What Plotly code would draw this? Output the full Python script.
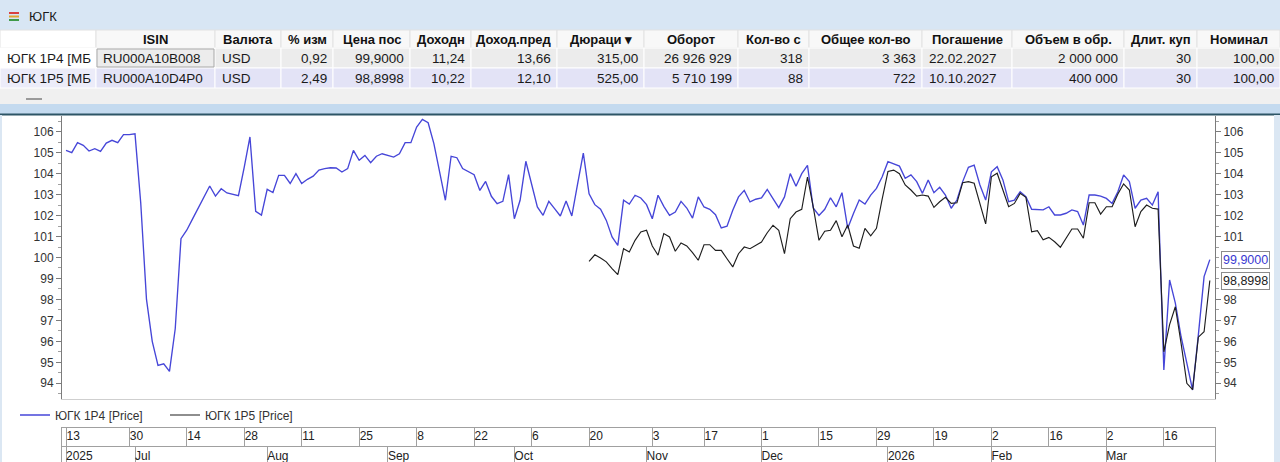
import plotly.graph_objects as go
import pandas as pd

# ---------------- data ----------------
holidays = ["2025-11-04", "2025-12-31", "2026-01-01", "2026-01-02", "2026-01-05", "2026-01-07"]
extra_sessions = ["2025-11-01"]
trading_days = sorted(
    set(pd.bdate_range("2025-06-13", "2026-03-26").strftime("%Y-%m-%d")) - set(holidays) | set(extra_sessions)
)

yugk_1p4 = [
    105.11, 105.00, 105.48, 105.35, 105.08, 105.19, 105.06, 105.46, 105.59, 105.48,
    105.86, 105.86, 105.90, 102.60, 98.00, 96.00, 94.85, 94.93, 94.57, 96.60,
    100.90, 101.30, 101.83, 102.35, 102.88, 103.41, 102.93, 103.28, 103.08, 103.01,
    102.95, 104.30, 105.75, 102.20, 102.02, 103.25, 103.10, 103.92, 103.92, 103.53,
    104.00, 103.53, 103.73, 103.88, 104.17, 104.24, 104.28, 104.27, 104.08, 104.24,
    105.11, 104.64, 104.87, 104.52, 104.83, 104.95, 104.87, 104.79, 104.95, 105.48,
    105.48, 106.22, 106.59, 106.43, 105.43, 104.05, 102.73, 104.83, 104.76, 104.24,
    104.11, 103.95, 103.20, 103.63, 102.92, 102.57, 102.68, 103.95, 101.85, 102.73,
    104.59, 103.44, 102.41, 102.01, 102.68, 102.33, 101.98, 102.70, 101.98, 103.50,
    104.98, 103.04, 102.52, 102.30, 101.77, 100.98, 100.58, 102.73, 102.55, 102.97,
    102.84, 102.52, 101.85, 102.97, 102.44, 102.01, 102.17, 102.68, 102.36, 101.88,
    102.89, 102.41, 102.30, 102.04, 101.41, 101.49, 102.25, 102.89, 103.20, 102.65,
    102.78, 102.84, 103.25, 102.81, 102.38, 102.89, 104.00, 103.40, 104.00, 104.40,
    102.36, 102.01, 102.30, 102.85, 102.42, 103.09, 101.39, 102.10, 102.74, 102.55,
    102.98, 103.30, 103.85, 104.57, 104.45, 104.36, 103.78, 103.94, 103.62, 103.06,
    103.70, 103.09, 103.35, 102.98, 102.35, 102.74, 103.62, 104.30, 104.41, 103.46,
    102.74, 104.09, 104.33, 103.70, 102.66, 102.74, 103.14, 102.90, 102.30, 102.27,
    102.27, 102.42, 102.03, 102.03, 102.11, 102.27, 102.19, 101.55, 102.98, 102.98,
    102.93, 102.82, 102.58, 103.14, 103.94, 103.62, 102.35, 102.74, 102.82, 102.50,
    103.14, 94.64, 98.93, 97.82, 96.22, 94.96, 93.68, 96.30, 99.09, 99.90,
]

yugk_1p5 = [
    99.82, 100.13, 99.98, 99.79, 99.47, 99.18, 100.42, 100.26, 100.82, 101.22,
    101.30, 100.55, 100.11, 101.14, 100.98, 100.30, 100.69, 100.55, 100.23, 99.87,
    100.61, 100.61, 100.34, 100.34, 99.94, 99.55, 100.18, 100.50, 100.42, 100.58,
    100.74, 101.18, 101.54, 101.30, 100.18, 101.85, 102.17, 102.30, 103.84, 102.41,
    100.82, 101.25, 101.30, 101.76, 100.99, 101.55, 100.55, 100.44, 101.39, 101.03,
    101.39, 102.80, 104.10, 104.17, 104.00, 103.46, 103.22, 102.93, 102.98, 102.93,
    102.39, 102.66, 102.87, 102.58, 102.61, 103.57, 103.62, 103.54, 102.58, 101.60,
    103.85, 104.02, 103.22, 102.42, 102.58, 103.06, 102.87, 101.23, 101.28, 100.84,
    100.96, 100.75, 100.49, 100.92, 101.36, 101.36, 100.92, 102.61, 102.61, 102.07,
    102.42, 102.42, 103.03, 103.51, 103.22, 101.47, 102.19, 102.50, 102.35, 102.31,
    95.50, 96.80, 97.65, 95.90, 94.00, 93.70, 96.20, 96.46, 98.8998,
]
dates_1p5 = trading_days[-len(yugk_1p5):]

day_tick_dates = ["2025-06-13", "2025-06-30", "2025-07-14", "2025-07-28", "2025-08-11", "2025-08-25",
                  "2025-09-08", "2025-09-22", "2025-10-06", "2025-10-20", "2025-11-03", "2025-11-17",
                  "2025-12-01", "2025-12-15", "2025-12-29", "2026-01-19", "2026-02-02", "2026-02-16",
                  "2026-03-02", "2026-03-16"]
day_tick_labels = ["13", "30", "14", "28", "11", "25", "8", "22", "6", "20", "3", "17",
                   "1", "15", "29", "19", "2", "16", "2", "16"]
month_tick_dates = ["2025-06-13", "2025-07-01", "2025-08-01", "2025-09-01", "2025-10-01",
                    "2025-11-01", "2025-12-01", "2026-01-06", "2026-02-02", "2026-03-02"]
month_tick_labels = ["2025", "Jul", "Aug", "Sep", "Oct", "Nov", "Dec", "2026", "Feb", "Mar"]
price_ticks = list(range(94, 107))

# table data
col_headers = ["", "ISIN", "Валюта", "% изм", "Цена пос", "Доходн", "Доход.пред", "Дюраци ▾",
               "Оборот", "Кол-во с", "Общее кол-во", "Погашение", "Объем в обр.", "Длит. куп", "Номинал"]
row_names = ["ЮГК 1P4 [МБ", "ЮГК 1P5 [МБ"]
isin = ["RU000A10B008", "RU000A10D4P0"]
currency = ["USD", "USD"]
pct_change = ["0,92", "2,49"]
last_price = ["99,9000", "98,8998"]
yield_now = ["11,24", "10,22"]
yield_prev = ["13,66", "12,10"]
duration = ["315,00", "525,00"]
turnover = ["26 926 929", "5 710 199"]
n_trades = ["318", "88"]
total_qty = ["3 363", "722"]
maturity = ["22.02.2027", "10.10.2027"]
issue_volume = ["2 000 000", "400 000"]
coupon_len = ["30", "30"]
nominal = ["100,00", "100,00"]

# ---------------- layout helpers ----------------
W, H = 1280, 462
def fx(p):
    return p / W
def fy(p):
    return 1 - p / H

FONT = "Liberation Sans, Arial, sans-serif"
BLUE = "#4646d8"
DARK = "#1e1e1e"
AX = "#7c7c7c"
GRID = "#a0a0a0"
x_range = [-0.7, len(trading_days) - 1 + 0.9]
day_pos = [trading_days.index(d) for d in day_tick_dates]
month_pos = [trading_days.index(d) for d in month_tick_dates]

fig = go.Figure()
fig.add_trace(go.Scatter(x=trading_days, y=yugk_1p4, mode="lines", name="ЮГК 1P4 [Price]",
                         line=dict(color=BLUE, width=1.35), xaxis="x", yaxis="y"))
fig.add_trace(go.Scatter(x=dates_1p5, y=yugk_1p5, mode="lines", name="ЮГК 1P5 [Price]",
                         line=dict(color=DARK, width=1.15), xaxis="x", yaxis="y2"))
# empty traces so that the two date-ruler rows exist as subplots
fig.add_trace(go.Scatter(x=[], y=[], xaxis="x3", yaxis="y3", showlegend=False, hoverinfo="skip"))
fig.add_trace(go.Scatter(x=[], y=[], xaxis="x4", yaxis="y4", showlegend=False, hoverinfo="skip"))

shapes = [
    dict(type="rect", xref="paper", yref="paper", x0=0, x1=1, y0=fy(30), y1=1,
         fillcolor="#d8e6f4", line_width=0, layer="below"),
    dict(type="rect", xref="paper", yref="paper", x0=0, x1=1, y0=fy(104), y1=fy(88),
         fillcolor="#f0f0f0", line_width=0, layer="below"),
    dict(type="rect", xref="paper", yref="paper", x0=0, x1=1, y0=fy(114), y1=fy(104),
         fillcolor="#c4daef", line_width=0, layer="below"),
    dict(type="line", xref="paper", yref="paper", x0=0, x1=1, y0=fy(114.5), y1=fy(114.5),
         line=dict(color="#2d5566", width=2)),
    dict(type="line", xref="paper", yref="paper", x0=fx(26), x1=fx(42), y0=fy(99), y1=fy(99),
         line=dict(color="#9a9a9a", width=2)),
    dict(type="line", xref="paper", yref="paper", x0=fx(9), x1=fx(19), y0=fy(13), y1=fy(13),
         line=dict(color="#d84040", width=2)),
    dict(type="line", xref="paper", yref="paper", x0=fx(9), x1=fx(19), y0=fy(16.5), y1=fy(16.5),
         line=dict(color="#e2a531", width=2)),
    dict(type="line", xref="paper", yref="paper", x0=fx(9), x1=fx(19), y0=fy(20), y1=fy(20),
         line=dict(color="#3f9a48", width=2)),
    dict(type="rect", xref="paper", yref="paper", x0=fx(1274), x1=1, y0=0, y1=fy(115),
         fillcolor="#dbe7f3", line_width=0),
    dict(type="rect", xref="paper", yref="paper", x0=0, x1=fx(2), y0=0, y1=fy(115),
         fillcolor="#dbe7f3", line_width=0),
]

annotations = [
    dict(xref="paper", yref="paper", x=fx(27), y=fy(16.5), text="ЮГК", showarrow=False,
         xanchor="left", yanchor="middle", font=dict(family=FONT, size=13, color="#1a1a1a")),
]

# ---------------- quote table (drawn as cells) ----------------
columns = [row_names, isin, currency, pct_change, last_price, yield_now, yield_prev, duration,
           turnover, n_trades, total_qty, maturity, issue_volume, coupon_len, nominal]
aligns = ["left", "left", "left", "right", "right", "right", "right", "right",
          "right", "right", "right", "left", "right", "right", "right"]
widths = [96, 119, 66, 52, 77, 61, 86, 87, 94, 71, 113, 90, 112, 73, 83]
edges = [0]
for w in widths:
    edges.append(edges[-1] + w)
row_bands = [(30, 48), (48, 68), (68, 88)]
row_fill = ["#f8f8f8", "#ececec", "#e3e3f6"]
first_fill = ["#ffffff", "#ffffff", "#ececf9"]
for r, (top, bot) in enumerate(row_bands):
    for c in range(len(columns)):
        x0, x1 = edges[c], edges[c + 1]
        shapes.append(dict(type="rect", xref="paper", yref="paper",
                           x0=fx(x0), x1=fx(x1), y0=fy(bot), y1=fy(top),
                           fillcolor=first_fill[r] if c == 0 else row_fill[r],
                           line=dict(color="#e2e2e2" if r == 0 else "#ffffff", width=1),
                           layer="below"))
        if r == 0:
            text = "<b>%s</b>" % col_headers[c] if col_headers[c] else ""
            xa, xp = "center", (x0 + x1) / 2
            fnt = dict(family=FONT, size=13, color="#111111")
        else:
            text = columns[c][r - 1]
            xa = aligns[c]
            xp = x0 + 5 if xa == "left" else x1 - 4
            fnt = dict(family=FONT, size=13.5, color="#1a1a1a")
        if text:
            annotations.append(dict(xref="paper", yref="paper", x=fx(xp), y=fy((top + bot) / 2 + 0.5),
                                    text=text, showarrow=False, xanchor=xa, yanchor="middle",
                                    font=fnt))
# selected-cell frame (row 1, ISIN)
shapes.append(dict(type="rect", xref="paper", yref="paper", x0=fx(edges[1] + 1), x1=fx(edges[2] - 1),
                   y0=fy(67), y1=fy(49), line=dict(color="#a9a9a9", width=1), fillcolor="rgba(0,0,0,0)"))

# ---------------- price axes ----------------
axis_common = dict(range=[93.25, 106.75], tickmode="array",
                   ticks="outside", ticklen=5, tickcolor=AX, showline=True, linecolor=AX,
                   showgrid=False, zeroline=False, tickfont=dict(family=FONT, size=12, color="#333333"),
                   minor=dict(dtick=0.5, ticks="outside", ticklen=3, tickcolor="#a0a0a0"))
last_vals = [yugk_1p4[-1], yugk_1p5[-1]]
right_ticks = [t for t in price_ticks if all(abs(t - v) > 0.6 for v in last_vals)]

def fmt(v):
    return ("%.4f" % v).replace(".", ",")

annotations += [
    dict(xref="paper", yref="y", x=fx(1221), y=yugk_1p4[-1], text=fmt(yugk_1p4[-1]), showarrow=False,
         xanchor="left", yanchor="middle", bgcolor="white", bordercolor="#8c8c8c", borderwidth=1,
         borderpad=1, font=dict(family=FONT, size=12.5, color="#3a3ad2")),
    dict(xref="paper", yref="y", x=fx(1221), y=yugk_1p5[-1], text=fmt(yugk_1p5[-1]), showarrow=False,
         xanchor="left", yanchor="middle", bgcolor="white", bordercolor="#8c8c8c", borderwidth=1,
         borderpad=1, font=dict(family=FONT, size=12.5, color="#222222")),
]

fig.update_layout(
    width=W, height=H, margin=dict(l=0, r=0, t=0, b=0),
    paper_bgcolor="white", plot_bgcolor="white",
    xaxis=dict(domain=[fx(62), fx(1215)], anchor="y", type="category", range=x_range,
               showticklabels=False, ticks="", showgrid=False, zeroline=False,
               showline=True, linecolor="#cfcfcf"),
    yaxis=dict(domain=[fy(399), fy(116)], anchor="x", side="left", tickvals=price_ticks, **axis_common),
    yaxis2=dict(overlaying="y", matches="y", anchor="x", side="right", tickvals=right_ticks, **axis_common),
    xaxis3=dict(domain=[fx(62), fx(1215)], anchor="y3", type="linear", range=x_range, tickmode="array",
                tickvals=day_pos, ticktext=day_tick_labels, showgrid=True, gridcolor=GRID,
                showline=True, mirror=True, linecolor=GRID, ticks="", zeroline=False,
                ticklabelposition="inside right", fixedrange=True,
                tickfont=dict(family=FONT, size=12, color="#222222")),
    yaxis3=dict(domain=[fy(446), fy(428)], anchor="x3", range=[0, 1], showticklabels=False,
                showgrid=False, zeroline=False, showline=True, mirror=True, linecolor=GRID,
                ticks="", fixedrange=True),
    xaxis4=dict(domain=[fx(62), fx(1215)], anchor="y4", type="linear", range=x_range, tickmode="array",
                tickvals=month_pos, ticktext=month_tick_labels, showgrid=True, gridcolor=GRID,
                side="top", showline=False, ticks="", zeroline=False, ticklabelposition="inside right",
                fixedrange=True, tickfont=dict(family=FONT, size=12, color="#222222")),
    yaxis4=dict(domain=[0, fy(446)], anchor="x4", range=[0, 1], showticklabels=False,
                showgrid=False, zeroline=False, showline=True, mirror=True, linecolor=GRID,
                ticks="", fixedrange=True),
    showlegend=True,
    legend=dict(orientation="h", x=fx(15), y=fy(415), xanchor="left", yanchor="middle",
                bgcolor="rgba(0,0,0,0)", itemwidth=30, entrywidth=105, entrywidthmode="pixels",
                font=dict(family=FONT, size=12, color="#333333")),
    shapes=shapes,
    annotations=annotations,
)

fig.write_html("out.html", config={"displayModeBar": False},
               post_script="document.body.style.margin='0';document.body.style.overflow='hidden';")
